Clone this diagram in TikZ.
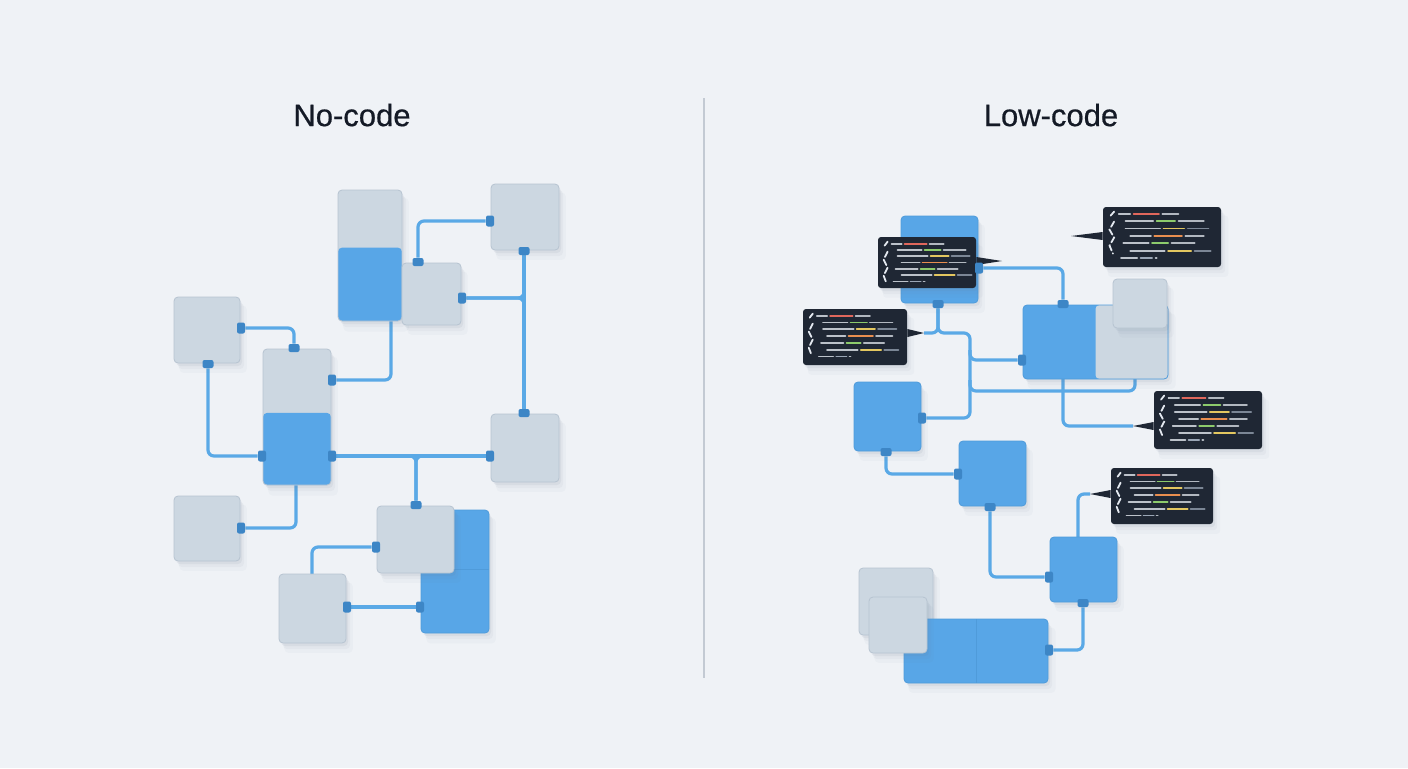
\documentclass[tikz,border=0pt]{standalone}
\usepackage{fontspec}
\setmainfont{Liberation Sans}
\newfontfamily\headfont[FakeBold=0.6]{Liberation Sans}
\usetikzlibrary{calc,fit,shadows,positioning}

\definecolor{bgc}{HTML}{EFF2F6}
\definecolor{boxgray}{HTML}{CCD7E1}
\definecolor{graydraw}{HTML}{B7C4D1}
\definecolor{boxblue}{HTML}{58A6E7}
\definecolor{bluedraw}{HTML}{4F9BDA}
\definecolor{wirec}{HTML}{5AA9E6}
\definecolor{portc}{HTML}{3D86C6}
\definecolor{shadowc}{HTML}{6E7F96}
\definecolor{codebg}{HTML}{1F2734}
\definecolor{codew}{HTML}{E4E9F0}
\definecolor{codered}{HTML}{E0675C}
\definecolor{codeorange}{HTML}{E98E4F}
\definecolor{codegreen}{HTML}{8DCB6C}
\definecolor{codeyellow}{HTML}{E3C760}
\definecolor{codegray}{HTML}{9AA6B6}
\definecolor{titlec}{HTML}{141A26}
\definecolor{dividerc}{HTML}{C3CAD3}

\pgfdeclarelayer{background}
\pgfdeclarelayer{wires}
\pgfsetlayers{background,wires,main}

\tikzset{
  soft shadow/.style={
    drop shadow={shadow xshift=1pt,shadow yshift=-1.5pt,opacity=.09,fill=shadowc},
    drop shadow={shadow xshift=2pt,shadow yshift=-3pt,opacity=.06,fill=shadowc},
    drop shadow={shadow xshift=3pt,shadow yshift=-4.5pt,opacity=.04,fill=shadowc,shadow scale=1.02}},
  gbox/.style={fill=boxgray,draw=graydraw,line width=.4pt,rounded corners=2pt,
    inner sep=0pt,soft shadow},
  bbox/.style={fill=boxblue,draw=bluedraw,line width=.4pt,rounded corners=2pt,
    inner sep=0pt,soft shadow},
  splitgb/.style={gbox,path picture={\fill[boxblue]
    ($(path picture bounding box.north west)!#1!(path picture bounding box.south west)$)
    rectangle (path picture bounding box.south east);}},
  splitbg/.style={bbox,path picture={\fill[boxgray]
    ($(path picture bounding box.north west)!#1!(path picture bounding box.north east)$)
    rectangle (path picture bounding box.south east);}},
  codebox/.style={fill=codebg,rounded corners=1.5pt,inner sep=0pt,soft shadow},
  codestroke/.style={line width=.9pt,line cap=round},
  hport/.style={fill=portc,rounded corners=1pt,inner sep=0pt,
    minimum width=4pt,minimum height=5.5pt},
  vport/.style={fill=portc,rounded corners=1pt,inner sep=0pt,
    minimum width=5.5pt,minimum height=4pt},
  wire/.style={draw=wirec,line width=1.6pt,rounded corners=3pt},
  headline/.style={text=titlec,font=\headfont\fontsize{15.5pt}{18pt}\selectfont},
  splitline/.style={draw=bluedraw,line width=.5pt}
}

% fake code inside a dark box, #1 = row step
\newcommand{\codelines}[1]{%
  \draw[codestroke,draw=codew] (7,9) -- (10,5);
  \draw[codestroke,draw=codew,dash pattern=on 3pt off 1.5pt]
    (10,15) -- (6,23) -- (10,31) -- (6,39) -- (9,47);
  \foreach \r/\x/\la/\cl/\lb/\cc/\lc in {0/14/10/codered/22/codew/14,
                                 1/20/24/codegreen/16/codew/22,
                                 2/20/30/codeyellow/18/codegray/18,
                                 3/24/18/codeorange/24/codew/16,
                                 4/18/22/codegreen/14/codew/20,
                                 5/24/30/codeyellow/20/codegray/14,
                                 6/16/14/codegray/10/codew/1}{
    \draw[codestroke,draw=codew,opacity=.8] (\x,{7+\r*#1}) -- ++(\la,0);
    \draw[codestroke,draw=\cl] ({\x+\la+3},{7+\r*#1}) -- ++(\lb,0);
    \draw[codestroke,draw=\cc,opacity=.75] ({\x+\la+\lb+6},{7+\r*#1}) -- ++(\lc,0);
  }
}

\begin{document}
\begin{tikzpicture}[x=0.5pt,y=-0.5pt]

\begin{pgfonlayer}{background}
\fill[bgc] (0,0) rectangle (1408,768);
\end{pgfonlayer}
\useasboundingbox (0,0) rectangle (1408,768);

% Titles and divider
\node[headline] (tNo) at (352,115) {No-code};
\node[headline] (tLow) at (1051,115) {Low-code};
\draw[dividerc,line width=.8pt] (704,98) -- (704,678);

% No-code boxes
\node[splitgb=0.44,fit={(338,190) (402,321)}] (nA) {};
\node[gbox,fit={(491,184) (559,250)}] (nB) {};
\node[gbox,fit={(402,263) (461,325)}] (nC) {};
\node[gbox,fit={(174,297) (240,363)}] (nD) {};
\node[splitgb=0.47,fit={(263,349) (331,485)}] (nE) {};
\node[gbox,fit={(491,414) (559,482)}] (nF) {};
\node[gbox,fit={(174,496) (240,561)}] (nG) {};
\node[bbox,fit={(421,510) (489,633)}] (nH) {};
\draw[splitline] (421,569) -- (489,569);
\node[gbox,fit={(377,506) (454,573)}] (nI) {};
\node[gbox,fit={(279,574) (346,643)}] (nJ) {};

% Low-code boxes
\node[bbox,fit={(901,216) (978,303)}] (lK) {};
\node[splitbg=0.5,fit={(1023,305) (1168,379)}] (lL) {};
\node[gbox,fit={(1113,279) (1167,328)}] (lM) {};
\node[bbox,fit={(854,382) (921,451)}] (lN) {};
\node[bbox,fit={(959,441) (1026,506)}] (lO) {};
\node[bbox,fit={(1050,537) (1117,602)}] (lP) {};
\node[gbox,fit={(859,568) (933,635)}] (lQa) {};
\node[bbox,fit={(904,619) (1048,683)}] (lR) {};
\draw[splitline] (976,619) -- (976,683);
\node[gbox,fit={(869,597) (927,653)}] (lQb) {};

% code snippets
\node[codebox,fit={(878,237) (976,288)}] (code1) {};
\node[codebox,fit={(1103,207) (1221,267)}] (code2) {};
\node[codebox,fit={(803,309) (907,365)}] (code3) {};
\node[codebox,fit={(1154,391) (1262,449)}] (code4) {};
\node[codebox,fit={(1111,468) (1213,524)}] (code5) {};
\begin{scope}[shift={(code1.north west)}] \codelines{6.3} \end{scope}
\begin{scope}[shift={(code2.north west)},xscale=1.15] \codelines{7.4} \end{scope}
\begin{scope}[shift={(code3.north west)},xscale=1.02] \codelines{6.8} \end{scope}
\begin{scope}[shift={(code4.north west)},xscale=1.06] \codelines{7} \end{scope}
\begin{scope}[shift={(code5.north west)}] \codelines{6.8} \end{scope}

% pointer tips
\coordinate (c1tip) at (1002,261);
\coordinate (c2tip) at (1071,236);
\coordinate (c3tip) at (924,333);
\coordinate (c4tip) at (1133,426);
\coordinate (c5tip) at (1090,494);
\fill[codebg] ([yshift=2pt]code1.east |- c1tip) -- (c1tip) -- ([yshift=-2pt]code1.east |- c1tip) -- cycle;
\fill[codebg] ([yshift=2pt]code2.west |- c2tip) -- (c2tip) -- ([yshift=-2pt]code2.west |- c2tip) -- cycle;
\fill[codebg] ([yshift=2pt]code3.east |- c3tip) -- (c3tip) -- ([yshift=-2pt]code3.east |- c3tip) -- cycle;
\fill[codebg] ([yshift=2pt]code4.west |- c4tip) -- (c4tip) -- ([yshift=-2pt]code4.west |- c4tip) -- cycle;
\fill[codebg] ([yshift=2pt]code5.west |- c5tip) -- (c5tip) -- ([yshift=-2pt]code5.west |- c5tip) -- cycle;

% ports, no-code
\node[hport] (pDr) at (241,328) {};
\node[vport] (pEt) at (294,348) {};
\node[vport] (pDb) at (208,364) {};
\node[hport] (pEl) at (262,456) {};
\node[hport] (pEr1) at (332,380) {};
\node[vport] (pCt) at (418,262) {};
\node[hport] (pBl) at (490,221) {};
\node[hport] (pCr) at (462,298) {};
\node[vport] (pBb) at (524,251) {};
\node[vport] (pFt) at (524,413) {};
\node[hport] (pEr2) at (332,456) {};
\node[hport] (pFl) at (490,456) {};
\node[vport] (pIt) at (416,505) {};
\node[hport] (pGr) at (241,528) {};
\node[hport] (pIl) at (376,547) {};
\node[hport] (pJr) at (347,607) {};
\node[hport] (pHl) at (420,607) {};
\coordinate (aS) at (391,321);
\coordinate (eS) at (296,485);
\coordinate (jN) at (312,574);

% ports, low-code
\node[hport] (pKr) at (979,268) {};
\node[vport] (pLt) at (1063,304) {};
\node[vport] (pKb) at (938,304) {};
\node[hport] (pLl) at (1022,360) {};
\node[hport] (pNr) at (922,418) {};
\node[vport] (pNb) at (886,452) {};
\node[hport] (pOl) at (958,474) {};
\node[vport] (pOb) at (990,507) {};
\node[hport] (pPl) at (1049,577) {};
\node[vport] (pPb) at (1083,603) {};
\node[hport] (pRr) at (1049,650) {};
\coordinate (lLb1) at (1063,379);
\coordinate (lLb2) at (1135,379);
\coordinate (lPt) at (1078,537);

% wires
\begin{pgfonlayer}{wires}
\draw[wire] (pDr) -| (pEt);
\draw[wire] (pDb) |- (pEl);
\draw[wire] (pEr1) -| (aS);
\draw[wire] (pCt) |- (pBl);
\draw[wire] (pBb) -- (pFt);
\draw[wire] (pCr) -| (pBb);
\draw[wire] (pCr) -| (pFt);
\draw[wire] (pEr2) -- (pFl);
\draw[wire] (pEr2) -| (pIt);
\draw[wire] (pFl) -| (pIt);
\draw[wire] (eS) |- (pGr);
\draw[wire] (pIl) -| (jN);
\draw[wire] (pJr) -- (pHl);

\draw[wire] (pKr) -| (pLt);
\draw[wire] (pKb) |- (c3tip);
\draw[wire] (pKb) -- (938,333) -- (970,333) -- (970,360) -- (pLl);
\draw[wire] (970,350) -- (970,391) -- (1135,391) -- (lLb2);
\draw[wire] (pNr) -- (970,418) -- (970,380);
\draw[wire] (lLb1) |- (c4tip);
\draw[wire] (pNb) |- (pOl);
\draw[wire] (pOb) |- (pPl);
\draw[wire] (lPt) |- (c5tip);
\draw[wire] (pPb) |- (pRr);
\end{pgfonlayer}

\end{tikzpicture}
\end{document}
